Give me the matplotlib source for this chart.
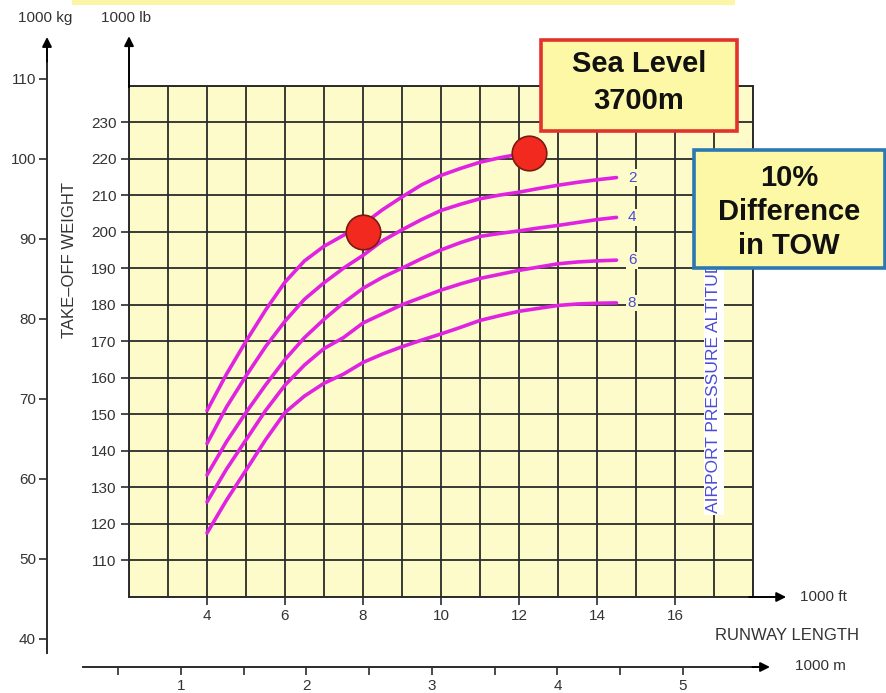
import matplotlib
matplotlib.use("Agg")
import matplotlib.pyplot as plt
from matplotlib.patches import Rectangle

plt.rcParams['font.family'] = ['Liberation Sans', 'DejaVu Sans']

# ---------------- data ----------------
runway_kft = [4, 4.5, 5, 5.5, 6, 6.5, 7, 7.5, 8, 8.5, 9, 9.5, 10, 10.5,
              11, 11.5, 12, 12.5, 13, 13.5, 14, 14.5]
tow_sea_level = [151, 161, 170, 178.5, 186.2, 192, 196, 199, 202, 206, 209.5,
                 212.8, 215.4, 217.3, 219, 220.2, 221.2]
tow_alt2 = [142, 152, 160.5, 168.5, 175.5, 181.5, 186, 190, 193.5, 197.5, 200.5,
            203.3, 205.8, 207.5, 209, 210, 210.8, 211.8, 212.7, 213.5, 214.2, 214.8]
tow_alt4 = [133.4, 142.5, 150.5, 158, 165, 171, 176, 180.5, 184.5, 187.5, 190,
            192.6, 195, 197, 198.7, 199.5, 200.2, 201, 201.7, 202.5, 203.3, 203.9]
tow_alt6 = [126, 135, 143, 151, 158, 163.5, 168, 171, 175, 177.5, 180,
            182, 184, 185.7, 187.2, 188.3, 189.4, 190.3, 191.2, 191.7, 192.0, 192.2]
tow_alt8 = [117.5, 126.5, 134.7, 143, 150.5, 155, 158.5, 161, 164.2, 166.5, 168.5,
            170.3, 172, 173.8, 175.7, 177, 178.2, 179.0, 179.8, 180.2, 180.4, 180.5]
alt_labels = ['2', '4', '6', '8']

marker_kft = [8.0, 12.25]
marker_klb = [200.0, 221.5]

x_ticks_kft = [4, 6, 8, 10, 12, 14, 16]
y_ticks_klb = [110, 120, 130, 140, 150, 160, 170, 180, 190, 200, 210, 220, 230]
y_ticks_t = [40, 50, 60, 70, 80, 90, 100, 110]
x_ticks_km = [1, 2, 3, 4, 5]
x_minor_km = [0.5, 1.5, 2.5, 3.5, 4.5]

# ---------------- layout helpers ----------------
W, H = 887, 693
def fx(x):
    return x / W
def fy(y):
    return 1 - y / H

fig = plt.figure(figsize=(W / 100, H / 100), dpi=100)
fig.patch.set_facecolor('white')

GRID_BG = '#fdfbc9'
LINE = '#2b2b2b'
TXT = '#333333'
MAG = '#e023e0'
BLUE = '#4b4bd6'

# top yellow band (slide remnant)
fig.add_artist(Rectangle((fx(72), fy(5)), fx(735) - fx(72), 5 / H,
                         transform=fig.transFigure, facecolor='#fbf5a6',
                         edgecolor='none'))

# ---------------- main grid axes ----------------
L, R, T, B = 129, 753, 85.5, 597
ax = fig.add_axes([fx(L), fy(B), (R - L) / W, (B - T) / H])
ax.set_xlim(2, 18)
ax.set_ylim(100, 240)
ax.set_facecolor(GRID_BG)
ax.set_xticks(x_ticks_kft)
ax.set_xticks(range(2, 19), minor=True)
ax.set_yticks(y_ticks_klb)
ax.set_yticks(range(100, 241, 10), minor=True)
ax.grid(True, which='both', color=LINE, lw=1.3, zorder=1)
ax.set_axisbelow(True)
ax.tick_params(axis='both', which='minor', length=0)
ax.tick_params(axis='both', which='major', length=6, width=1.2, color=LINE,
               labelsize=11, labelcolor=TXT, direction='out', pad=3)
for s in ax.spines.values():
    s.set_color(LINE)
    s.set_linewidth(1.4)

# curves
ax.plot(runway_kft[:len(tow_sea_level)], tow_sea_level, color=MAG, lw=2.6,
        solid_capstyle='round', solid_joinstyle='round', zorder=3)
for vals in (tow_alt2, tow_alt4, tow_alt6, tow_alt8):
    ax.plot(runway_kft, vals, color=MAG, lw=2.6, solid_capstyle='round',
            solid_joinstyle='round', zorder=3)

for lab, vals in zip(alt_labels, (tow_alt2, tow_alt4, tow_alt6, tow_alt8)):
    ax.text(runway_kft[-1] + 0.4, vals[-1], lab, color=BLUE, fontsize=11,
            ha='center', va='center', zorder=4,
            bbox=dict(facecolor=GRID_BG, edgecolor='none', pad=1))

ax.text(17.0, 123, 'AIRPORT PRESSURE ALTITUDE', rotation=90, color=BLUE,
        fontsize=12.6, ha='center', va='bottom', zorder=4,
        bbox=dict(facecolor='white', edgecolor='none', pad=1.5))

ax.scatter(marker_kft, marker_klb, s=620, color='#f2291e', edgecolor='#7a1a12',
           linewidth=1.2, zorder=5, clip_on=False)

# axis arrows (lb vertical, ft horizontal)
ax.annotate('', xy=(2, 253.5), xytext=(2, 239.5), xycoords='data',
            arrowprops=dict(arrowstyle='-|>', color='black', lw=1.4,
                            mutation_scale=14, shrinkA=0, shrinkB=0),
            annotation_clip=False)
ax.annotate('', xy=(18.85, 100), xytext=(17.9, 100), xycoords='data',
            arrowprops=dict(arrowstyle='-|>', color='black', lw=1.4,
                            mutation_scale=14, shrinkA=0, shrinkB=0),
            annotation_clip=False)

# ---------------- kg axis ----------------
kg_top, kg_bot = 60, 653
axk = fig.add_axes([fx(47), fy(kg_bot), 0.0001, (kg_bot - kg_top) / H])
axk.set_ylim(40 - (kg_bot - 639) / 8.0, 40 + (639 - kg_top) / 8.0)
axk.patch.set_visible(False)
for n in ('right', 'top', 'bottom'):
    axk.spines[n].set_visible(False)
axk.spines['left'].set_color(LINE)
axk.spines['left'].set_linewidth(1.4)
axk.set_xticks([])
axk.set_yticks(y_ticks_t)
axk.tick_params(axis='y', length=6, width=1.2, color=LINE, labelsize=11,
                labelcolor=TXT, pad=2)
axk.annotate('', xy=(0, axk.get_ylim()[1] + 23 / 8.0),
             xytext=(0, axk.get_ylim()[1] - 0.2),
             arrowprops=dict(arrowstyle='-|>', color='black', lw=1.4,
                             mutation_scale=14, shrinkA=0, shrinkB=0),
             annotation_clip=False)

# ---------------- m axis ----------------
m_left, m_right, m_y = 83, 755, 667
axm = fig.add_axes([fx(m_left), fy(m_y), (m_right - m_left) / W, 0.0001])
km_per_px = 1 / 125.5
axm.set_xlim(1 - (181 - m_left) * km_per_px, 1 + (m_right - 181) * km_per_px)
axm.patch.set_visible(False)
for n in ('left', 'right', 'top'):
    axm.spines[n].set_visible(False)
axm.spines['bottom'].set_color(LINE)
axm.spines['bottom'].set_linewidth(1.4)
axm.set_yticks([])
axm.set_xticks(x_ticks_km)
axm.set_xticks(x_minor_km, minor=True)
axm.tick_params(axis='x', which='both', length=6, width=1.2, color=LINE,
                labelsize=11, labelcolor=TXT, pad=3)
axm.annotate('', xy=(axm.get_xlim()[1] + 15 * km_per_px, 0),
             xytext=(axm.get_xlim()[1] - 0.02, 0), xycoords=('data', 'axes fraction'),
             textcoords=('data', 'axes fraction'),
             arrowprops=dict(arrowstyle='-|>', color='black', lw=1.4,
                             mutation_scale=14, shrinkA=0, shrinkB=0),
             annotation_clip=False)

# ---------------- texts ----------------
fig.text(fx(18), fy(18), '1000 kg', fontsize=11, color=TXT, ha='left', va='center')
fig.text(fx(101), fy(18), '1000 lb', fontsize=11, color=TXT, ha='left', va='center')
fig.text(fx(70), fy(260), 'TAKE–OFF WEIGHT', fontsize=12, color=TXT, rotation=90,
         ha='center', va='center')
fig.text(fx(800), fy(597), '1000 ft', fontsize=11, color=TXT, ha='left', va='center')
fig.text(fx(795), fy(666), '1000 m', fontsize=11, color=TXT, ha='left', va='center')
fig.text(fx(787), fy(635), 'RUNWAY LENGTH', fontsize=12, color=TXT,
         ha='center', va='center')

# ---------------- callout boxes ----------------
BOX_FILL = '#fcf8a6'
fig.add_artist(Rectangle((fx(541), fy(131)), (737 - 541) / W, (131 - 40) / H,
                         transform=fig.transFigure, facecolor=BOX_FILL,
                         edgecolor='#e3322b', linewidth=2.6, zorder=10))
fig.text(fx(639), fy(64), 'Sea Level', fontsize=21, fontweight='bold',
         ha='center', va='center', zorder=11, color='#111111')
fig.text(fx(639), fy(101), '3700m', fontsize=21, fontweight='bold',
         ha='center', va='center', zorder=11, color='#111111')

fig.add_artist(Rectangle((fx(694), fy(268)), (885 - 694) / W, (268 - 150) / H,
                         transform=fig.transFigure, facecolor=BOX_FILL,
                         edgecolor='#2b78b2', linewidth=2.6, zorder=10))
for txt, yy in (('10%', 178), ('Difference', 212), ('in TOW', 246)):
    fig.text(fx(789), fy(yy), txt, fontsize=21, fontweight='bold',
             ha='center', va='center', zorder=11, color='#111111')

fig.savefig('out.png', dpi=100, facecolor='white')
